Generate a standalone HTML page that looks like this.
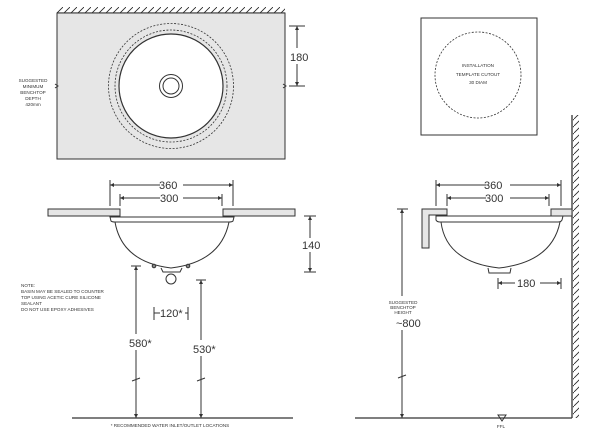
<!DOCTYPE html>
<html><head><meta charset="utf-8"><style>
html,body{margin:0;padding:0;background:#fff;width:600px;height:432px;overflow:hidden}
svg{display:block}
text{font-family:"Liberation Sans",sans-serif;fill:#333}
</style></head><body>
<svg width="600" height="432" viewBox="0 0 600 432" xmlns="http://www.w3.org/2000/svg">
<defs>
<pattern id="hatchT" width="7" height="7" patternUnits="userSpaceOnUse"><line x1="0" y1="7" x2="7" y2="0" stroke="#222" stroke-width="0.8"/></pattern>
<pattern id="hatchR" width="7" height="7" patternUnits="userSpaceOnUse"><line x1="0" y1="7" x2="7" y2="0" stroke="#222" stroke-width="0.8"/></pattern>
</defs>
<g stroke="#333" stroke-width="1" fill="none">
<!-- top plan view -->
<rect x="57" y="7" width="228" height="6" fill="url(#hatchT)" stroke="none"/>
<line x1="57" y1="13" x2="285" y2="13" stroke-width="1.3"/>
<rect x="57" y="13" width="228" height="146" fill="#e6e6e6"/>
<circle cx="171" cy="86" r="62.5" stroke-dasharray="2,1.5" stroke-width="0.8"/>
<circle cx="171" cy="86" r="56" stroke-dasharray="2,1.5" stroke-width="0.8"/>
<circle cx="171" cy="86" r="52" fill="#fff" stroke-width="1.2"/>
<circle cx="171" cy="86" r="11.5"/>
<circle cx="171" cy="86" r="8"/>
<line x1="289" y1="26" x2="305" y2="26"/><line x1="289" y1="86" x2="305" y2="86"/>
<line x1="297" y1="26" x2="297" y2="48"/><line x1="297" y1="64" x2="297" y2="86"/>
<path d="M55 84 l3 2 l-3 2 M283 84 l3 2 l-3 2"/>

<!-- template square -->
<rect x="421" y="18" width="116" height="117"/>
<circle cx="478" cy="75" r="43" stroke-dasharray="2,1.5" stroke-width="0.8"/>

<!-- front elevation -->
<line x1="110" y1="180" x2="110" y2="206"/><line x1="233" y1="180" x2="233" y2="206"/>
<line x1="120" y1="194" x2="120" y2="206"/><line x1="222" y1="194" x2="222" y2="206"/>
<line x1="110" y1="185" x2="160" y2="185"/><line x1="183" y1="185" x2="233" y2="185"/>
<line x1="120" y1="198" x2="160" y2="198"/><line x1="183" y1="198" x2="222" y2="198"/>
<rect x="48" y="209" width="72" height="7" fill="#e6e6e6"/>
<rect x="223" y="209" width="72" height="7" fill="#e6e6e6"/>
<path d="M110 217 H234 L233 221 Q232 222 229 222 H115 Q112 222 111 221 Z"/>
<path d="M115 222 Q122 262 171 268 Q221 262 229 222"/>
<path d="M161 268 L163 272 H180 L182 268"/>
<circle cx="154" cy="266" r="1.8" fill="#888"/><circle cx="188" cy="266" r="1.8" fill="#888"/>
<circle cx="171" cy="279" r="5"/>
<line x1="304" y1="216" x2="316" y2="216"/><line x1="304" y1="272" x2="316" y2="272"/>
<line x1="310" y1="216" x2="310" y2="238"/><line x1="310" y1="252" x2="310" y2="272"/>
<line x1="131" y1="266" x2="141" y2="266"/>
<line x1="136" y1="266" x2="136" y2="334"/><line x1="136" y1="350" x2="136" y2="418"/>
<line x1="196" y1="280" x2="206" y2="280"/>
<line x1="201" y1="280" x2="201" y2="340"/><line x1="201" y1="356" x2="201" y2="418"/>
<path d="M132 381 l8 -3 M197 381 l8 -3"/>
<line x1="154" y1="307" x2="154" y2="320"/><line x1="188" y1="307" x2="188" y2="320"/>
<line x1="154" y1="313" x2="160" y2="313"/><line x1="185" y1="313" x2="188" y2="313"/>
<line x1="72" y1="418" x2="293" y2="418" stroke-width="1.3"/>

<!-- side elevation -->
<line x1="572" y1="115" x2="572" y2="418" stroke-width="1.3"/>
<rect x="573" y="115" width="6" height="303" fill="url(#hatchR)" stroke="none"/>
<line x1="355" y1="418" x2="572" y2="418" stroke-width="1.3"/>
<line x1="436" y1="180" x2="436" y2="206"/><line x1="561" y1="180" x2="561" y2="206"/>
<line x1="447" y1="194" x2="447" y2="206"/><line x1="549" y1="194" x2="549" y2="206"/>
<line x1="436" y1="185" x2="486" y2="185"/><line x1="510" y1="185" x2="561" y2="185"/>
<line x1="447" y1="198" x2="486" y2="198"/><line x1="510" y1="198" x2="549" y2="198"/>
<path d="M422 209 H447 V215 H429 V248 H422 Z" fill="#e6e6e6"/>
<rect x="551" y="209" width="21" height="7" fill="#e6e6e6"/>
<path d="M436 216 H563 L562 220 Q561 222 558 222 H440 Q437 222 436 220 Z"/>
<path d="M441 222 Q446 262 499 268 Q552 262 560 222"/>
<path d="M488 268 L489 273 H510 L511 268"/>
<line x1="498" y1="278" x2="498" y2="289"/><line x1="561" y1="278" x2="561" y2="289"/>
<line x1="498" y1="283" x2="515" y2="283"/><line x1="540" y1="283" x2="561" y2="283"/>
<line x1="397" y1="209" x2="408" y2="209"/>
<line x1="402" y1="209" x2="402" y2="296"/><line x1="402" y1="330" x2="402" y2="418"/>
<path d="M398 378 l8 -3"/>
<path d="M498 415 h8 l-4 6 Z"/>
</g>
<g fill="#333" stroke="none">
<path d="M110 185 l4 -2 v4 Z M233 185 l-4 -2 v4 Z M120 198 l4 -2 v4 Z M222 198 l-4 -2 v4 Z"/>
<path d="M436 185 l4 -2 v4 Z M561 185 l-4 -2 v4 Z M447 198 l4 -2 v4 Z M549 198 l-4 -2 v4 Z"/>
<path d="M297 26 l-2 4 h4 Z M297 86 l-2 -4 h4 Z M310 216 l-2 4 h4 Z M310 272 l-2 -4 h4 Z"/>
<path d="M136 266 l-2 4 h4 Z M136 418 l-2 -4 h4 Z M201 280 l-2 4 h4 Z M201 418 l-2 -4 h4 Z"/>
<path d="M402 209 l-2 4 h4 Z M402 418 l-2 -4 h4 Z M498 283 l4 -2 v4 Z M561 283 l-4 -2 v4 Z"/>
</g>
<g font-size="11">
<text x="290" y="61">180</text>
<text x="159" y="189">360</text>
<text x="160" y="202">300</text>
<text x="302" y="249">140</text>
<text x="129" y="347">580*</text>
<text x="193" y="353">530*</text>
<text x="160" y="317">120*</text>
<text x="484" y="189">360</text>
<text x="485" y="202">300</text>
<text x="517" y="287">180</text>
<text x="396" y="327">~800</text>
</g>
<g font-size="4.6" text-anchor="middle">
<text x="33" y="82">SUGGESTED</text>
<text x="33" y="88">MINIMUM</text>
<text x="33" y="94">BENCHTOP</text>
<text x="33" y="100">DEPTH</text>
<text x="33" y="106">420mm</text>
<text x="478" y="67">INSTALLATION</text>
<text x="478" y="76">TEMPLATE CUTOUT</text>
<text x="478" y="84">30 DIAM</text>
<text x="403" y="304">SUGGESTED</text>
<text x="403" y="309">BENCHTOP</text>
<text x="403" y="314">HEIGHT</text>
<text x="170" y="427">* RECOMMENDED WATER INLET/OUTLET LOCATIONS</text>
<text x="501" y="428">FFL</text>
</g>
<g font-size="4.6">
<text x="21" y="287">NOTE:</text>
<text x="21" y="293">BASIN MAY BE SEALED TO COUNTER</text>
<text x="21" y="299">TOP USING ACETIC CURE SILICONE</text>
<text x="21" y="305">SEALANT</text>
<text x="21" y="311">DO NOT USE EPOXY ADHESIVES</text>
</g>
</svg>
</body></html>
